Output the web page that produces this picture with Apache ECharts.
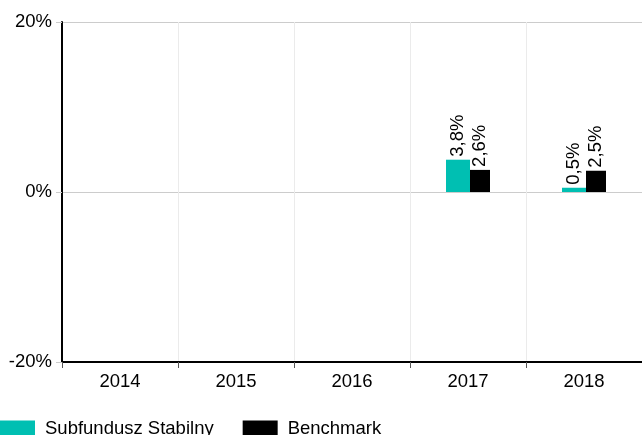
<!DOCTYPE html>
<html>
<head>
<meta charset="utf-8">
<script src="https://cdn.jsdelivr.net/npm/echarts@6/dist/echarts.min.js"></script>
<style>
  html, body { margin: 0; padding: 0; background: #fff; }
  #chart { width: 642px; height: 435px; }
</style>
</head>
<body>
<div id="chart"></div>
<script>
// data
const years = ["2014", "2015", "2016", "2017", "2018"];
const fundValues = [null, null, null, 3.8, 0.5];
const benchValues = [null, null, null, 2.6, 2.5];
const seriesNames = ["Subfundusz Stabilny", "Benchmark"];

const fmt = (v) => v.toFixed(1).replace(".", ",") + "%";

const chart = echarts.init(document.getElementById("chart"));

const labelStyle = {
  show: true,
  position: "top",
  rotate: 90,
  align: "left",
  verticalAlign: "middle",
  distance: 3,
  color: "#000",
  fontSize: 18.5,
  formatter: (p) => fmt(p.value),
};

chart.setOption({
  animation: false,
  textStyle: { fontFamily: "Liberation Sans, Arial, sans-serif" },
  grid: { left: 62, right: 0, top: 22, bottom: 73, containLabel: false },
  legend: {
    left: 0,
    top: 419,
    padding: 0,
    itemWidth: 35,
    itemHeight: 16,
    itemGap: 29,
    icon: "rect",
    textStyle: { fontSize: 18.5, color: "#000", padding: [0, 0, 0, 5] },
    data: seriesNames,
  },
  xAxis: {
    type: "category",
    data: years,
    axisLine: { onZero: false, lineStyle: { color: "#000", width: 2 } },
    axisTick: { show: true, length: 6, lineStyle: { color: "#555" } },
    axisLabel: { fontSize: 18.5, color: "#000", margin: 10 },
    splitLine: { show: true, lineStyle: { color: "#ebebeb" } },
  },
  yAxis: {
    type: "value",
    min: -20,
    max: 20,
    interval: 20,
    axisLine: { show: true, lineStyle: { color: "#000", width: 2 } },
    axisTick: { show: true, length: 6, lineStyle: { color: "#ccc" } },
    axisLabel: { fontSize: 18.5, color: "#000", margin: 10, formatter: "{value}%" },
    splitLine: { lineStyle: { color: "#ccc" } },
  },
  series: [
    {
      name: seriesNames[0],
      type: "bar",
      data: fundValues,
      barWidth: 24,
      barGap: "0%",
      itemStyle: { color: "#00bfb2" },
      label: labelStyle,
    },
    {
      name: seriesNames[1],
      type: "bar",
      data: benchValues,
      barWidth: 20,
      barGap: "0%",
      itemStyle: { color: "#000" },
      label: labelStyle,
    },
  ],
});
</script>
</body>
</html>
